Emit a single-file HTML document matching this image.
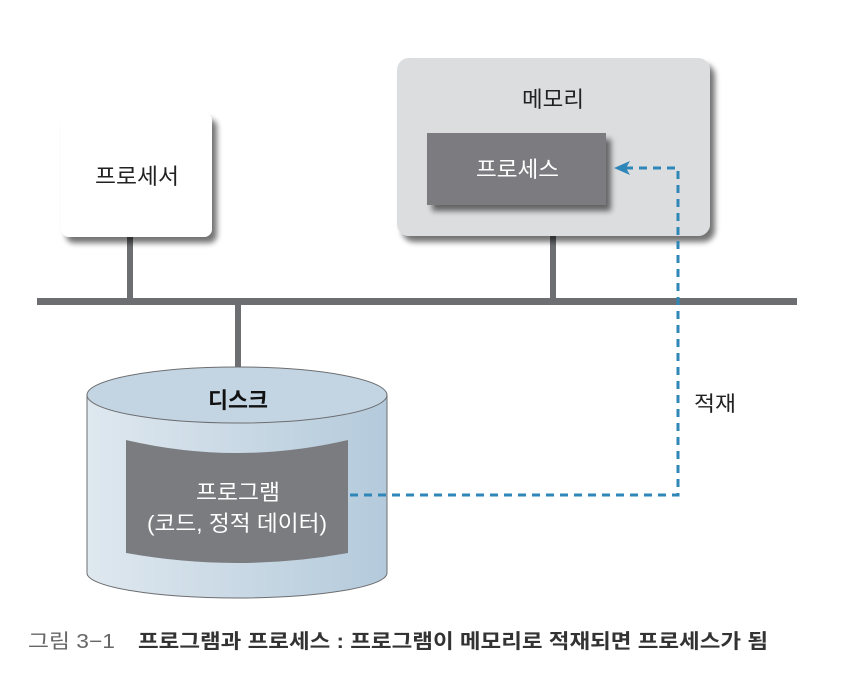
<!DOCTYPE html>
<html><head><meta charset="utf-8"><style>
html,body{margin:0;padding:0;background:#fff;}
svg text{font-family:"Liberation Sans","Noto Sans CJK KR",sans-serif;}
</style></head><body>
<svg width="854" height="676" viewBox="0 0 854 676" xmlns="http://www.w3.org/2000/svg">
<defs>
<filter id="sh" x="-20%" y="-20%" width="150%" height="150%"><feGaussianBlur in="SourceAlpha" stdDeviation="3"/><feOffset dx="5" dy="6"/><feComponentTransfer><feFuncA type="linear" slope="0.55"/></feComponentTransfer><feMerge><feMergeNode/><feMergeNode in="SourceGraphic"/></feMerge></filter>
<linearGradient id="cyl" x1="0" x2="1" y1="0" y2="0"><stop offset="0" stop-color="#dfe8ef"/><stop offset="1" stop-color="#b4cadb"/></linearGradient>
</defs>
<rect x="37" y="298" width="760" height="7" fill="#6d6e71"/>
<rect x="127" y="236" width="6" height="65" fill="#6d6e71"/>
<rect x="550" y="236" width="6" height="65" fill="#6d6e71"/>
<rect x="235" y="302" width="6" height="68" fill="#6d6e71"/>
<rect x="61" y="113" width="151" height="124" rx="8" fill="#fff" filter="url(#sh)"/>
<text x="95" y="184" font-size="22" textLength="84" lengthAdjust="spacingAndGlyphs" fill="#222">프로세서</text>
<rect x="397" y="58" width="313" height="178" rx="12" fill="#dcdddf" filter="url(#sh)"/>
<text x="522" y="107" font-size="22" textLength="62" lengthAdjust="spacingAndGlyphs" fill="#222">메모리</text>
<rect x="427" y="133" width="179" height="72" fill="#7b7c80" filter="url(#sh)"/>
<text x="476" y="177" font-size="22" textLength="83" lengthAdjust="spacingAndGlyphs" fill="#fff">프로세스</text>
<path d="M87 395 L87 573 A150 25 0 0 0 387 573 L387 395 Z" fill="url(#cyl)" stroke="#6d6e71" stroke-width="1"/>
<ellipse cx="237" cy="395" rx="150" ry="28" fill="#c3d5e3" stroke="#6d6e71" stroke-width="1"/>
<text x="208" y="408" font-size="22" font-weight="bold" textLength="60" lengthAdjust="spacingAndGlyphs" fill="#111">디스크</text>
<path d="M126 440 Q237 466 348 440 L348 553 Q237 573 126 553 Z" fill="#7b7c80"/>
<text x="196" y="500" font-size="22" textLength="84" lengthAdjust="spacingAndGlyphs" fill="#fff">프로그램</text>
<text x="147" y="531" font-size="22" textLength="180" lengthAdjust="spacingAndGlyphs" fill="#fff">(코드, 정적 데이터)</text>
<path d="M350 495 L678 495 L678 168 L626 168" fill="none" stroke="#2f86b8" stroke-width="3" stroke-dasharray="8 6"/>
<polygon points="614,168 630,161 626,168 630,175" fill="#2f86b8"/>
<text x="694" y="411" font-size="21" textLength="42" lengthAdjust="spacingAndGlyphs" fill="#222">적재</text>
<text x="28" y="648" font-size="20" textLength="87" lengthAdjust="spacingAndGlyphs" fill="#666">그림 3−1</text>
<text x="138" y="648" font-size="20" font-weight="bold" textLength="630" lengthAdjust="spacingAndGlyphs" fill="#333">프로그램과 프로세스 : 프로그램이 메모리로 적재되면 프로세스가 됨</text>
</svg>
</body></html>
